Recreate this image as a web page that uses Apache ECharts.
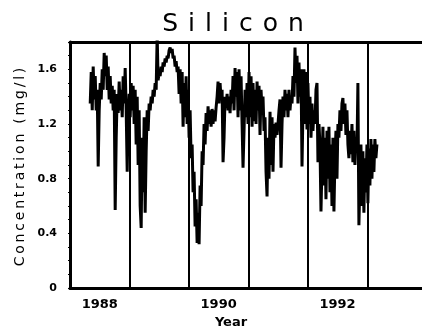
<!DOCTYPE html>
<html><head><meta charset="utf-8">
<script src="https://cdn.jsdelivr.net/npm/echarts@6/dist/echarts.min.js"></script>
<style>html,body{margin:0;padding:0;background:#fff}#c{width:422px;height:327px}</style>
</head><body><div id="c"></div>
<script>
const titleText = 'Silicon';
const yTitle = 'Concentration (mg/l)';
const xTitle = 'Year';
const yTicks = [0, 0.4, 0.8, 1.2, 1.6];
const yMinorTicks = [0,0.1,0.2,0.3,0.4,0.5,0.6,0.7,0.8,0.9,1.0,1.1,1.2,1.3,1.4,1.5,1.6,1.7,1.8];
const xLabelYears = [1988, 1990, 1992];
const yearLines = [1989, 1990, 1991, 1992, 1993];

const times = [
1988.340,1988.357,1988.374,1988.390,1988.407,1988.424,1988.441,1988.458,1988.474,1988.491,1988.508,1988.525,1988.542,1988.558,1988.575,1988.592,1988.609,1988.626,1988.642,1988.659,1988.676,1988.693,1988.710,1988.726,1988.743,
1988.760,1988.777,1988.794,1988.810,1988.827,1988.844,1988.861,1988.878,1988.894,1988.911,1988.928,1988.945,1988.962,1988.978,1988.995,1989.012,1989.029,1989.046,1989.062,1989.079,1989.096,1989.113,1989.130,1989.146,1989.163,
1989.180,1989.197,1989.214,1989.230,1989.247,1989.264,1989.281,1989.298,1989.314,1989.331,1989.348,1989.365,1989.382,1989.398,1989.415,1989.432,1989.449,1989.466,1989.482,1989.499,1989.516,1989.533,1989.550,1989.566,1989.583,
1989.600,1989.617,1989.634,1989.650,1989.667,1989.684,1989.701,1989.718,1989.734,1989.751,1989.768,1989.785,1989.802,1989.818,1989.835,1989.852,1989.869,1989.886,1989.902,1989.919,1989.936,1989.953,1989.970,1989.986,1990.003,
1990.020,1990.037,1990.054,1990.070,1990.087,1990.104,1990.121,1990.138,1990.154,1990.171,1990.188,1990.205,1990.222,1990.238,1990.255,1990.272,1990.289,1990.306,1990.322,1990.339,1990.356,1990.373,1990.390,1990.406,1990.423,
1990.440,1990.457,1990.474,1990.490,1990.507,1990.524,1990.541,1990.558,1990.574,1990.591,1990.608,1990.625,1990.642,1990.658,1990.675,1990.692,1990.709,1990.726,1990.742,1990.759,1990.776,1990.793,1990.810,1990.826,1990.843,
1990.860,1990.877,1990.894,1990.910,1990.927,1990.944,1990.961,1990.978,1990.994,1991.011,1991.028,1991.045,1991.062,1991.078,1991.095,1991.112,1991.129,1991.146,1991.162,1991.179,1991.196,1991.213,1991.230,1991.246,1991.263,
1991.280,1991.297,1991.314,1991.330,1991.347,1991.364,1991.381,1991.398,1991.414,1991.431,1991.448,1991.465,1991.482,1991.498,1991.515,1991.532,1991.549,1991.566,1991.582,1991.599,1991.616,1991.633,1991.650,1991.666,1991.683,
1991.700,1991.717,1991.734,1991.750,1991.767,1991.784,1991.801,1991.818,1991.834,1991.851,1991.868,1991.885,1991.902,1991.918,1991.935,1991.952,1991.969,1991.986,1992.002,1992.019,1992.036,1992.053,1992.070,1992.086,1992.103,
1992.120,1992.137,1992.154,1992.170,1992.187,1992.204,1992.221,1992.238,1992.254,1992.271,1992.288,1992.305,1992.322,1992.338,1992.355,1992.372,1992.389,1992.406,1992.422,1992.439,1992.456,1992.473,1992.490,1992.506,1992.523,
1992.540,1992.557,1992.574,1992.590,1992.607,1992.624,1992.641,1992.658,1992.674,1992.691,1992.708,1992.725,1992.742,1992.758,1992.775,1992.792,1992.809,1992.826,1992.842,1992.859,1992.876,1992.893,1992.910,1992.926,1992.943,
1992.960,1992.977,1992.994,1993.010,1993.027,1993.044,1993.061,1993.078,1993.094,1993.111,1993.128,1993.145,1993.162
];

const values = [
1.35,1.58,1.30,1.62,1.38,1.55,1.30,1.45,0.89,1.30,
1.50,1.38,1.60,1.45,1.72,1.55,1.70,1.45,1.62,1.38,
1.55,1.35,1.48,1.30,1.45,0.57,1.10,1.42,1.28,1.51,
1.30,1.45,1.25,1.55,1.35,1.61,1.30,0.85,1.25,1.42,
1.25,1.50,1.30,1.48,1.20,1.45,1.05,1.40,0.90,1.30,
0.60,0.44,1.10,0.70,1.25,0.55,1.00,1.30,1.15,1.35,
1.30,1.40,1.35,1.45,1.40,1.50,1.45,1.85,1.52,1.58,
1.55,1.62,1.58,1.65,1.62,1.68,1.65,1.70,1.68,1.74,
1.76,1.72,1.75,1.68,1.70,1.62,1.66,1.58,1.62,1.42,
1.60,1.35,1.58,1.18,1.50,1.25,1.55,1.20,1.45,1.10,
1.30,0.95,1.05,0.70,0.85,0.45,0.65,0.33,0.55,0.32,
0.75,0.60,1.00,0.90,1.20,1.05,1.28,1.15,1.33,1.20,
1.30,1.18,1.31,1.20,1.30,1.22,1.32,1.40,1.51,1.35,
1.50,1.38,1.45,0.92,1.10,1.40,1.32,1.42,1.30,1.40,
1.28,1.45,1.35,1.55,1.30,1.61,1.40,1.58,1.25,1.60,
1.30,1.55,1.20,0.88,1.15,1.45,1.25,1.50,1.20,1.58,
1.25,1.55,1.18,1.50,1.22,1.45,1.20,1.51,1.30,1.48,
1.12,1.45,1.30,1.40,1.15,1.25,0.85,0.67,1.10,0.80,
1.29,0.90,1.25,0.85,1.20,1.10,1.21,1.12,1.20,1.30,
1.38,0.88,1.20,1.40,1.25,1.45,1.30,1.42,1.25,1.45,
1.30,1.40,1.35,1.55,1.40,1.76,1.50,1.70,1.35,1.65,
1.40,1.60,0.89,1.30,1.60,1.20,1.58,1.16,1.50,1.20,
1.40,1.10,1.35,1.15,1.30,1.20,1.45,1.50,0.92,1.20,
1.05,0.56,0.90,1.18,0.75,1.10,0.65,1.15,0.80,1.18,
0.70,1.05,0.60,1.10,0.56,0.95,1.15,0.80,1.20,1.10,
1.30,1.15,1.35,1.39,1.20,1.35,1.12,1.30,1.05,0.95,
1.15,0.98,1.20,0.92,1.15,0.90,1.10,1.00,1.50,0.46,
0.80,1.05,0.60,1.00,0.55,0.95,0.70,1.05,0.62,1.02,
0.75,1.09,0.80,1.05,0.85,1.09,0.95,1.05
];

const spaced = (s, sep) => Array.from(s).join(sep);
const FONT = '"DejaVu Sans", sans-serif';
const X_MIN = 1988, X_MAX = 1993.92;

const chart = echarts.init(document.getElementById('c'), null, {renderer: 'canvas'});
chart.setOption({
  animation: false,
  backgroundColor: '#fff',
  grid: {left: 70, right: 0, top: 42, bottom: 39, outerBoundsMode: 'none'},
  xAxis: [{
    type: 'value', min: X_MIN, max: X_MAX, position: 'bottom',
    axisLine: {show: true, lineStyle: {color: '#000', width: 3}},
    axisTick: {show: false},
    splitLine: {show: false},
    axisLabel: {
      customValues: xLabelYears.map(y => y + 0.5),
      formatter: v => String(Math.floor(v)),
      color: '#000', fontFamily: FONT, fontWeight: 'bold', fontSize: 13, margin: 10
    }
  }, {
    type: 'value', min: X_MIN, max: X_MAX, position: 'top',
    axisLine: {show: true, lineStyle: {color: '#000', width: 3}},
    axisTick: {show: false}, axisLabel: {show: false}, splitLine: {show: false}
  }],
  yAxis: {
    type: 'value', min: 0, max: 1.8,
    axisLine: {show: true, lineStyle: {color: '#000', width: 3}},
    axisTick: {show: true, customValues: yMinorTicks, length: 2, lineStyle: {color: '#000', width: 1}},
    splitLine: {show: false},
    axisLabel: {
      customValues: yTicks,
      color: '#000', fontFamily: FONT, fontWeight: 'bold', fontSize: 11, margin: 13
    }
  },
  series: [{
    type: 'line',
    data: times.map((t, i) => [t, values[i]]),
    symbol: 'none',
    lineStyle: {color: '#000', width: 3},
    markLine: {
      silent: true, symbol: ['none', 'none'],
      label: {show: false},
      lineStyle: {color: '#000', width: 2, type: 'solid'},
      data: yearLines.map(v => ({xAxis: v}))
    }
  }],
  graphic: [
    {type: 'text', x: 233, y: 24, style: {text: spaced(titleText, '\u2009\u2009'), font: 'normal 25px ' + FONT, fill: '#000', align: 'center', verticalAlign: 'middle'}},
    {type: 'text', x: 20, y: 167, rotation: Math.PI / 2, style: {text: spaced(yTitle, '\u2009'), font: 'normal 14px ' + FONT, fill: '#000', align: 'center', verticalAlign: 'middle'}},
    {type: 'text', x: 231, y: 316, style: {text: xTitle, font: 'bold 13px ' + FONT, fill: '#000', align: 'center', verticalAlign: 'top'}}
  ]
});
</script>
</body></html>
